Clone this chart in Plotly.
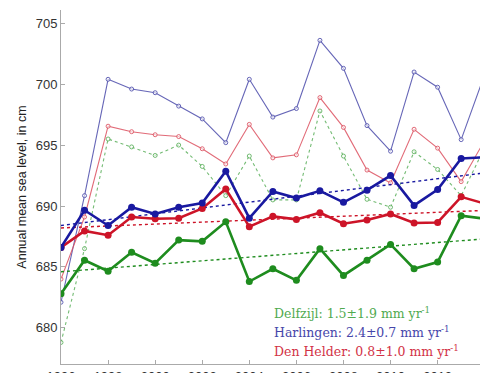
import plotly.graph_objects as go

years = list(range(1996, 2015))

# Annual mean sea level (thick lines, markers)
delfzijl = [682.8, 685.55, 684.65, 686.2, 685.3, 687.2, 687.1, 688.7, 683.8, 684.85,
            683.9, 686.5, 684.3, 685.55, 686.85, 684.85, 685.4, 689.2, 688.95]
harlingen = [686.6, 689.65, 688.4, 689.9, 689.35, 689.9, 690.25, 692.85, 689.0, 691.2,
             690.65, 691.25, 690.3, 691.3, 692.5, 690.05, 691.35, 693.9, 694.0]
denhelder = [686.6, 687.95, 687.6, 689.1, 688.95, 689.0, 689.8, 691.4, 688.3, 689.15,
             688.9, 689.45, 688.55, 688.85, 689.35, 688.6, 688.65, 690.75, 690.2]

# Upper thin series
delfzijl_hi = [678.8, 686.5, 695.5, 694.85, 694.15, 695.0, 693.25, 690.85, 694.1, 690.5,
               690.5, 697.8, 694.1, 690.55, 689.9, 694.45, 693.0, 690.85, 694.8]
harlingen_hi = [682.1, 690.85, 700.4, 699.6, 699.3, 698.2, 697.15, 695.2, 700.4, 697.3,
                698.0, 703.6, 701.3, 696.6, 694.5, 701.0, 699.75, 695.45, 700.8]
denhelder_hi = [684.0, 689.1, 696.55, 696.1, 695.85, 695.7, 694.7, 693.45, 696.7, 693.95,
                694.2, 698.9, 696.45, 692.95, 691.9, 696.3, 694.75, 692.0, 695.4]

# Linear trends: level in 1996 (cm) and rate (mm/yr)
stations = ["Delfzijl", "Harlingen", "Den Helder"]
trend_start = [684.6, 688.4, 688.2]
rates = [1.5, 2.4, 0.8]
rate_err = [1.9, 0.7, 1.0]

trend_years = [1996, 2014]
xtick_vals = list(range(1996, 2016, 2))

thick_cols = ["rgb(30,140,30)", "rgb(25,25,160)", "rgb(205,20,40)"]
thin_cols = ["rgba(90,175,90,0.85)", "rgba(85,85,175,0.9)", "rgba(220,80,95,0.85)"]
text_cols = ["rgb(80,170,80)", "rgb(70,70,170)", "rgb(210,50,70)"]

W, H = 480, 373
ml, mr, mt, mb = 61, 0, 10, 9
pw, ph = W - ml - mr, H - mt - mb
x0, x1 = 1996, 2013.8

fig = go.Figure()

his = [delfzijl_hi, harlingen_hi, denhelder_hi]
los = [delfzijl, harlingen, denhelder]

for i in range(3):
    fig.add_trace(go.Scatter(
        x=years, y=his[i], mode="lines+markers",
        line=dict(color=thin_cols[i], width=1.1, dash="dot" if i == 0 else "solid"),
        marker=dict(size=4, color="rgba(255,255,255,0.6)",
                    line=dict(color=thin_cols[i], width=1)),
        showlegend=False))

for i in range(3):
    ty = [trend_start[i] + rates[i] / 10 * (y - 1996) for y in trend_years]
    fig.add_trace(go.Scatter(
        x=trend_years, y=ty, mode="lines",
        line=dict(color=thick_cols[i], width=1.4, dash="dot"),
        showlegend=False))

for i in [0, 2, 1]:
    fig.add_trace(go.Scatter(
        x=years, y=los[i], mode="lines+markers",
        line=dict(color=thick_cols[i], width=2.6),
        marker=dict(size=7, color=thick_cols[i]),
        showlegend=False))

for i in range(3):
    fig.add_annotation(
        x=(272 - ml) / pw, y=1 - (313 + 19 * i - mt) / ph,
        xref="paper", yref="paper", showarrow=False,
        text=f"{stations[i]}: {rates[i]:.1f}±{rate_err[i]:.1f} mm yr<sup>-1</sup>",
        font=dict(family="DejaVu Serif", size=12.5, color=text_cols[i]),
        xanchor="left", yanchor="middle")

# tick label beyond the visible range (cut by the figure edge)
for v in xtick_vals:
    if v > x1:
        fig.add_annotation(x=(v - x0) / (x1 - x0), y=0, xref="paper", yref="paper",
                           yshift=-5, text=str(v), showarrow=False, yanchor="top",
                           font=dict(family="Liberation Sans", size=13, color="#333"))

fig.update_layout(
    width=W, height=H,
    margin=dict(l=ml, r=mr, t=mt, b=mb),
    paper_bgcolor="white", plot_bgcolor="white",
    font=dict(family="Liberation Sans", size=13, color="#333"),
    xaxis=dict(range=[x0, x1], tickvals=xtick_vals, automargin=False,
               showgrid=False, zeroline=False, showline=True, linecolor="#aaa",
               linewidth=1, ticks="inside", ticklen=4, tickcolor="#aaa",
               tickfont=dict(size=13, color="#333")),
    yaxis=dict(range=[677.03, 706.09], tickvals=[680, 685, 690, 695, 700, 705],
               automargin=False,
               showgrid=False, zeroline=False, showline=True, linecolor="#aaa",
               linewidth=1, ticks="inside", ticklen=4, tickcolor="#aaa",
               tickfont=dict(size=13, color="#333"),
               title=dict(text="Annual mean sea level, in cm", standoff=6,
                          font=dict(size=12.5, color="#222"))),
)

fig.write_html("out.html")
